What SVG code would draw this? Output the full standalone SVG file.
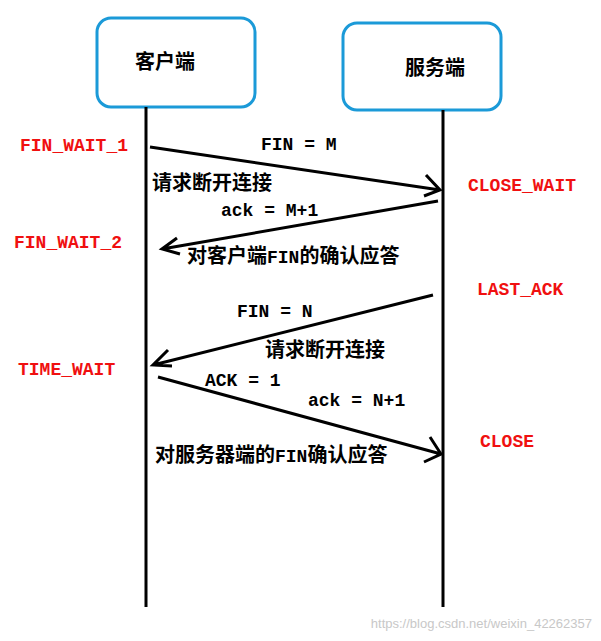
<svg xmlns="http://www.w3.org/2000/svg" width="601" height="641" viewBox="0 0 601 641">
<style>
.box{fill:#fff;stroke:#1b9ad8;stroke-width:3}
.ln{stroke:#000;stroke-width:3;fill:none}
.t{font-family:"Liberation Mono","Noto Sans CJK SC",monospace;font-size:18px;font-weight:bold;fill:#000}
.c{font-size:20px}
.r{font-family:"Liberation Mono","Noto Sans CJK SC",monospace;font-size:18px;font-weight:bold;fill:#f01010}
</style>
<rect width="601" height="641" fill="#fff"/>
<g id="client"><rect class="box" x="97" y="18" width="158" height="89" rx="14"/><text class="t c" x="135" y="69">客户端</text><line class="ln" x1="146" y1="107" x2="146" y2="607"/></g>
<g id="server"><rect class="box" x="343" y="23" width="158" height="87" rx="14"/><text class="t c" x="405" y="75">服务端</text><line class="ln" x1="443" y1="110" x2="443" y2="607"/></g>
<g id="connectors" class="ln">
<path d="M150,147 L440,190 M426,175 L440,190 L424,196"/>
<path d="M438,201 L162,249 M177,238 L162,249 L180,254"/>
<path d="M433,295 L153,365 M168,350 L153,365 L172,366"/>
<path d="M158,377 L441,454 M430,437 L441,454 L424,462"/>
</g>
<g id="labels">
<text class="t" x="261" y="150">FIN = M</text>
<text class="t c" x="152" y="190">请求断开连接</text>
<text class="t" x="221" y="216">ack = M+1</text>
<text class="t" x="187" y="263"><tspan class="c">对客户端</tspan>FIN<tspan class="c">的确认应答</tspan></text>
<text class="t" x="237" y="317">FIN = N</text>
<text class="t c" x="265" y="357">请求断开连接</text>
<text class="t" x="205" y="386">ACK = 1</text>
<text class="t" x="308" y="406">ack = N+1</text>
<text class="t" x="155" y="462"><tspan class="c">对服务器端的</tspan>FIN<tspan class="c">确认应答</tspan></text>
</g>
<g id="states">
<text class="r" x="20" y="151">FIN_WAIT_1</text>
<text class="r" x="468" y="191">CLOSE_WAIT</text>
<text class="r" x="14" y="248">FIN_WAIT_2</text>
<text class="r" x="477" y="295">LAST_ACK</text>
<text class="r" x="18" y="375">TIME_WAIT</text>
<text class="r" x="480" y="447">CLOSE</text>
</g>
<text x="592" y="628" text-anchor="end" font-family="Liberation Sans,sans-serif" font-size="13" fill="#c8c8c8">https://blog.csdn.net/weixin_42262357</text>
</svg>
